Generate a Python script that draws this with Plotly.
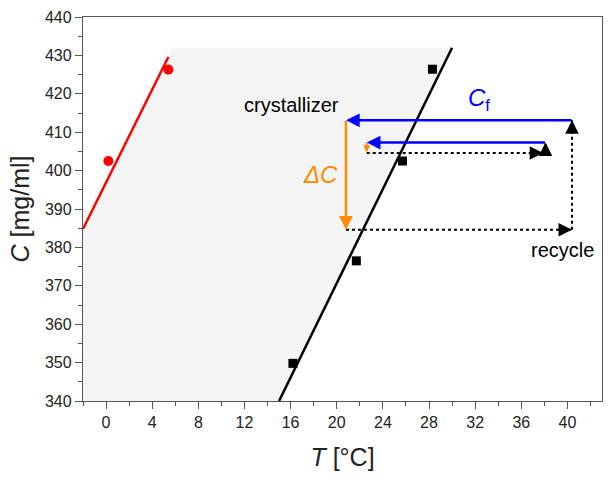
import plotly.graph_objects as go

# ---- data ----
black_T = [16.2, 21.7, 25.7, 28.3]
black_C = [349.8, 376.5, 402.5, 426.4]
red_T = [0.2, 5.4]
red_C = [402.5, 426.3]
black_fit_T = [15.0, 30.0]
black_fit_C = [340.0, 432.0]
red_fit_T = [-2.0, 5.4]
red_fit_C = [384.8, 429.6]
region_T = [-2.0, -2.0, 5.8, 30.0, 15.0]
region_C = [340.0, 384.8, 432.0, 432.0, 340.0]

# arrows: (tail_T, tail_C, tip_T, tip_C)
blue_arrows = [(40.4, 413.1, 20.8, 413.1), (38.1, 407.3, 22.6, 407.3)]
orange_big = (20.8, 413.1, 20.8, 384.6)
orange_small = (22.6, 407.3, 22.6, 404.8)
dotted_arrows = [(20.8, 384.6, 40.4, 384.6), (40.4, 384.6, 40.4, 413.1),
                 (22.6, 404.6, 37.9, 404.6), (38.1, 404.6, 38.1, 407.3)]

x_ticks = list(range(0, 41, 4))
y_ticks = list(range(340, 441, 10))

FONT = "Arial, Liberation Sans, sans-serif"

fig = go.Figure()
fig.add_trace(go.Scatter(x=region_T, y=region_C, mode="lines", fill="toself",
                         fillcolor="#f4f4f4", line=dict(width=0), hoverinfo="skip"))
fig.add_trace(go.Scatter(x=red_fit_T, y=red_fit_C, mode="lines",
                         line=dict(color="#ff0000", width=2.5)))
fig.add_trace(go.Scatter(x=black_fit_T, y=black_fit_C, mode="lines",
                         line=dict(color="#000000", width=2.5)))
fig.add_trace(go.Scatter(x=red_T, y=red_C, mode="markers",
                         marker=dict(color="#ff0000", size=10, symbol="circle")))
fig.add_trace(go.Scatter(x=black_T, y=black_C, mode="markers",
                         marker=dict(color="#000000", size=9, symbol="square")))
for (t0, c0, t1, c1) in dotted_arrows:
    fig.add_trace(go.Scatter(x=[t0, t1], y=[c0, c1], mode="lines",
                             line=dict(color="#000000", width=2, dash="dot")))

annotations = []
def arrow(t0, c0, t1, c1, color, width, size):
    annotations.append(dict(x=t1, y=c1, ax=t0, ay=c0, xref="x", yref="y",
                            axref="x", ayref="y", text="", showarrow=True,
                            arrowhead=2, arrowsize=size, arrowwidth=width,
                            arrowcolor=color, standoff=0, startstandoff=0,
                            font=dict(size=1), borderpad=0))

for a in blue_arrows:
    arrow(*a, "#0000ff", 2.5, 1.1)
arrow(*orange_big, "#ff8c00", 2.5, 1.1)
arrow(*orange_small, "#ff8c00", 2.0, 0.7)
for (t0, c0, t1, c1) in dotted_arrows:
    # short solid segment near tip so only the head shows
    if t0 == t1:
        arrow(t1, c1 - 2.0 if c1 > c0 else c1 + 2.0, t1, c1, "#000000", 1.5, 1.8)
    else:
        arrow(t1 - 0.8 if t1 > t0 else t1 + 0.8, c1, t1, c1, "#000000", 1.5, 1.8)

annotations += [
    dict(x=20.4, y=417.0, xref="x", yref="y", text="crystallizer", showarrow=False,
         xanchor="right", yanchor="middle", font=dict(family=FONT, size=20, color="#000")),
    dict(x=32.3, y=418.5, xref="x", yref="y", text="<i>C</i><sub>f</sub>", showarrow=False,
         xanchor="center", yanchor="middle", font=dict(family=FONT, size=24, color="#0000ff")),
    dict(x=20.3, y=399.0, xref="x", yref="y", text="<i>ΔC</i>", showarrow=False,
         xanchor="right", yanchor="middle", font=dict(family=FONT, size=24, color="#ff8c00")),
    dict(x=39.6, y=379.3, xref="x", yref="y", text="recycle", showarrow=False,
         xanchor="center", yanchor="middle", font=dict(family=FONT, size=20, color="#000")),
]

axis_common = dict(showline=True, linecolor="#555555", linewidth=1.3, mirror=True,
                   ticks="outside", ticklen=7, tickwidth=1.3, tickcolor="#555555",
                   showgrid=False, zeroline=False,
                   tickfont=dict(family=FONT, size=16, color="#222222"))

fig.update_layout(
    width=610, height=484,
    margin=dict(l=83, r=8, t=17, b=83),
    plot_bgcolor="white", paper_bgcolor="white",
    showlegend=False,
    annotations=annotations,
    xaxis=dict(range=[-2, 43], tickvals=x_ticks,
               minor=dict(ticks="outside", ticklen=4, tickwidth=1.3, tickcolor="#555555", dtick=2, tick0=0),
               title=dict(text="<i>T</i> [°C]", standoff=18,
                          font=dict(family=FONT, size=25, color="#222222")),
               **axis_common),
    yaxis=dict(range=[340, 440], tickvals=y_ticks,
               minor=dict(ticks="outside", ticklen=4, tickwidth=1.3, tickcolor="#555555", dtick=5, tick0=340),
               title=dict(text="<i>C</i> [mg/ml]", standoff=8,
                          font=dict(family=FONT, size=25, color="#222222")),
               **axis_common),
)

fig.write_html("out.html")
